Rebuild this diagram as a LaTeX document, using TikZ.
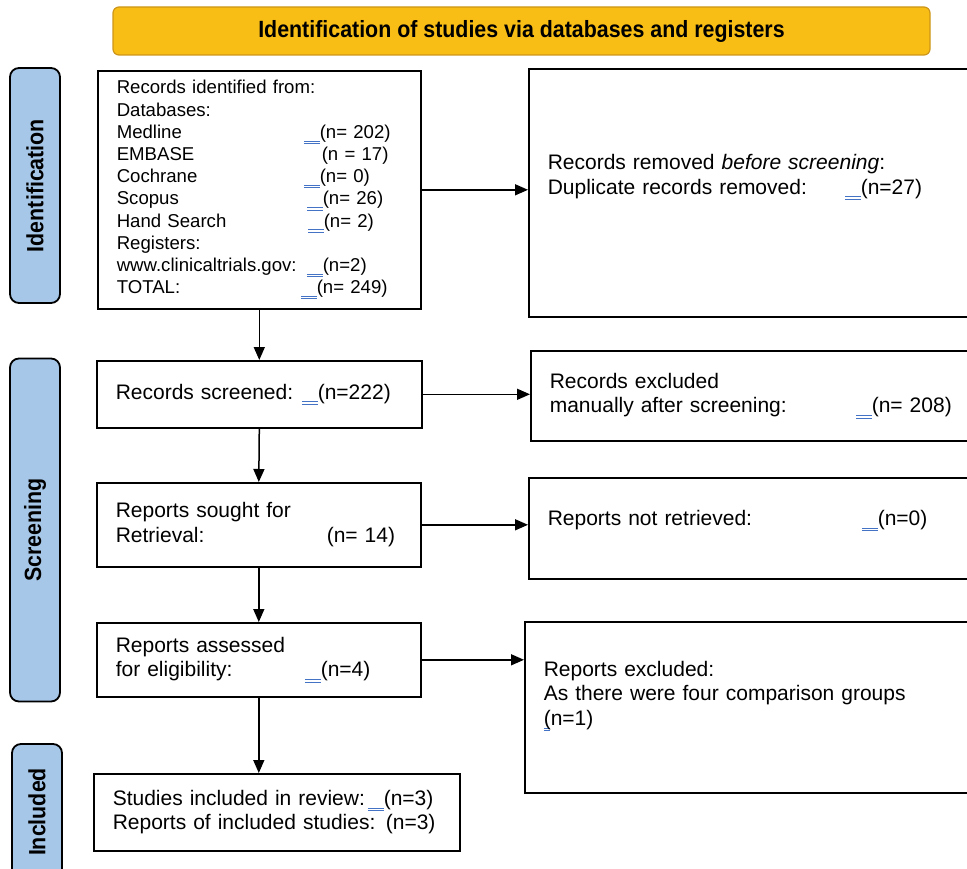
\documentclass[tikz,border=0pt]{standalone}
\usepackage{xcolor}
\usepackage{fontspec}
\setmainfont{Liberation Sans}
\usepackage{graphicx}
\usepackage{tikz}
\usetikzlibrary{arrows.meta}

\definecolor{hdrfill}{RGB}{249,190,22}
\definecolor{hdrline}{RGB}{205,150,25}
\definecolor{phasefill}{RGB}{166,199,232}
\definecolor{trkblue}{RGB}{68,114,196}

\newcommand\trk{\textcolor{trkblue}{\rlap{\rule[-3pt]{16pt}{0.7pt}}\rule[-5.5pt]{16pt}{0.7pt}}}
\newcommand\trks{\textcolor{trkblue}{\rlap{\rule[-3pt]{6pt}{0.7pt}}\rlap{\rule[-5.5pt]{6pt}{0.7pt}}}}
\newcommand\push[1]{\rule[-#1]{0pt}{#1}}
\newcommand\narrow[1]{\scalebox{0.91}[1]{#1}}

\tikzset{
  box/.style={draw, line width=1.6pt, anchor=north west, align=left,
    inner xsep=19pt, inner ysep=0pt, font=\fontsize{21}{24.5}\selectfont},
  phase/.style={draw, line width=1.8pt, fill=phasefill, rounded corners=9pt,
    rotate=90, minimum height=50pt, inner sep=0pt,
    font=\bfseries\fontsize{23.5}{26}\selectfont},
  hdr/.style={draw=hdrline, line width=1.2pt, fill=hdrfill, rounded corners=6pt,
    minimum width=817pt, minimum height=48pt,
    font=\bfseries\fontsize{23.5}{26}\selectfont},
  arr/.style={line width=1.5pt, -{Triangle[length=13pt,width=11pt]}}
}

\begin{document}
\begin{tikzpicture}[x=1pt,y=-1pt]
		\clip (0,0) rectangle (967,869);
		\node[hdr] (title) at (521.5,31) {\narrow{Identification of studies via databases and registers}};

		\node[phase, minimum width=235pt] (idphase) at (35,185.5) {\narrow{Identification}};
		\node[phase, minimum width=343pt] (scphase) at (35,530) {\narrow{Screening}};
		\node[phase, minimum width=136pt] (inphase) at (37,812) {\narrow{Included}};

		\node[box, minimum width=323pt, minimum height=238pt, text width=285pt,
			font=\fontsize{18.6}{22.2}\selectfont] (ident) at (97,70)
			{Records identified from:\\
			 Databases:\\
			 \makebox[187pt][l]{Medline}\trk(n= 202)\\
			 \makebox[205pt][l]{EMBASE}(n = 17)\\
			 \makebox[187pt][l]{Cochrane}\trk(n= 0)\\
			 \makebox[190pt][l]{Scopus}\trk(n= 26)\\
			 \makebox[191pt][l]{Hand Search}\trk(n= 2)\\
			 Registers:\\
			 \makebox[190pt][l]{www.clinicaltrials.gov:}\trk(n=2)\\
			 \makebox[184pt][l]{TOTAL:}\trk(n= 249)};
		\node[box, minimum width=460pt, minimum height=248pt, text width=422pt] (removed) at (528,68)
			{Records removed \emph{before screening}:\\
			 \makebox[297pt][l]{Duplicate records removed:}\trk(n=27)\push{37pt}};

		\node[box, minimum width=325pt, minimum height=67pt, text width=287pt] (screened) at (96,360)
			{\makebox[186pt][l]{Records screened:}\trk(n=222)};
		\node[box, minimum width=460pt, minimum height=90pt, text width=422pt] (excluded) at (530,350)
			{Records excluded\\
			 \makebox[306pt][l]{manually after screening:}\trk(n= 208)};

		\node[box, minimum width=324pt, minimum height=84pt, text width=286pt] (sought) at (96,482)
			{Reports sought for\\
			 \makebox[211pt][l]{Retrieval:}(n= 14)};
		\node[box, minimum width=460pt, minimum height=101pt, text width=422pt] (notret) at (528,477)
			{\makebox[314pt][l]{Reports not retrieved:}\trk(n=0)\push{21pt}};

		\node[box, minimum width=324pt, minimum height=74pt, text width=286pt] (assessed) at (96,622)
			{Reports assessed\\
			 \makebox[189pt][l]{for eligibility:}\trk(n=4)};
		\node[box, minimum width=460pt, minimum height=171pt, text width=422pt] (repexcl) at (524,621)
			{Reports excluded:\\
			 As there were four comparison groups\\
			 \trks(n=1)\push{28pt}};

		\node[box, minimum width=366pt, minimum height=77pt, text width=328pt] (studies) at (93,773)
			{\makebox[255pt][l]{Studies included in review:}\trk(n=3)\\
			 Reports of included studies: (n=3)};

		\draw[arr] (ident.south) -- (screened.north);
		\draw[arr] (screened.south) -- (sought.north);
		\draw[arr] (sought.south) -- (assessed.north);
		\draw[arr] (assessed.south) -- (assessed.south |- studies.north);

		\draw[arr] (ident.east) -- (ident.east -| removed.west);
		\draw[arr] (screened.east) -- (screened.east -| excluded.west);
		\draw[arr] (sought.east) -- (sought.east -| notret.west);
		\draw[arr] (assessed.east) -- (assessed.east -| repexcl.west);
	\end{tikzpicture}
\end{document}
